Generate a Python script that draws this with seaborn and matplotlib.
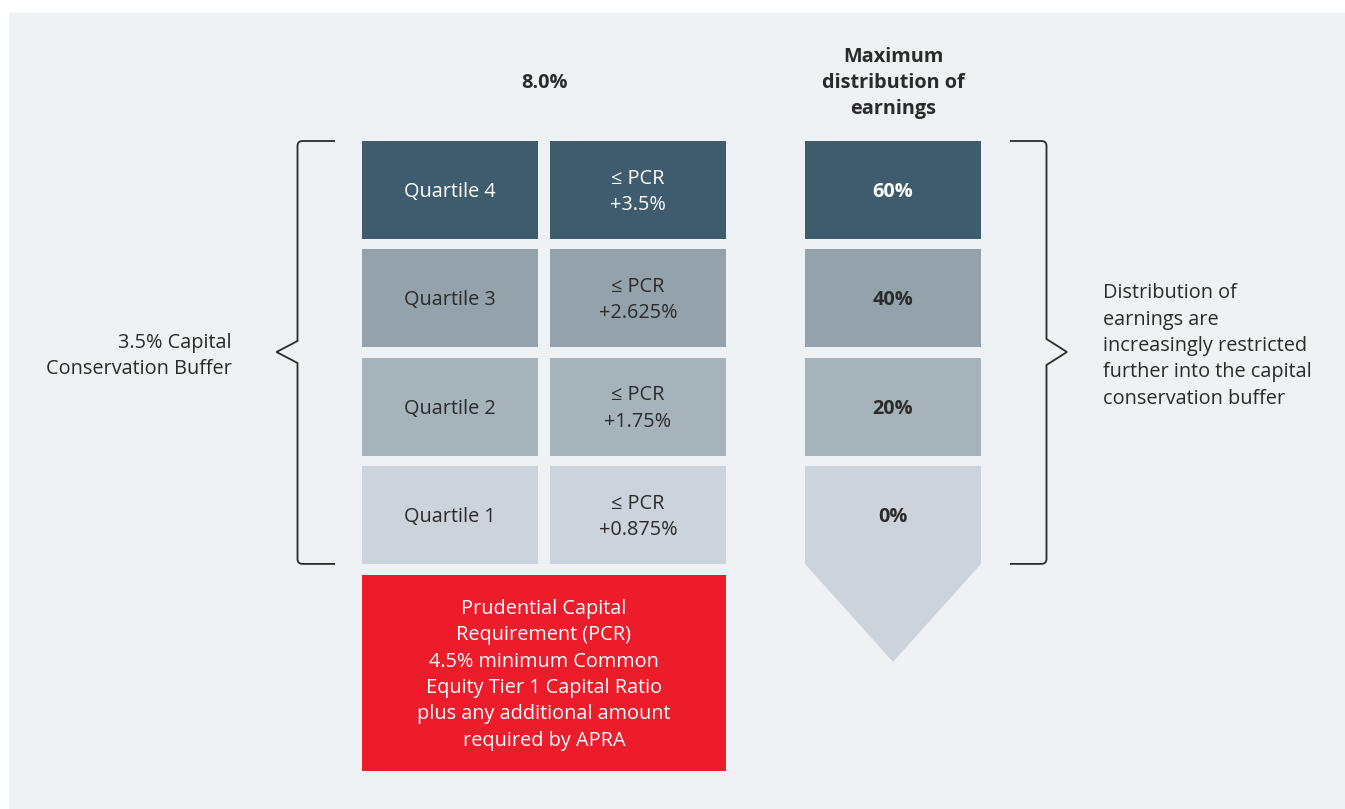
import matplotlib
matplotlib.use("Agg")
import matplotlib.pyplot as plt
import matplotlib.patches as mpatches
from matplotlib.path import Path
import seaborn as sns

# Data for the capital conservation buffer diagram (top row first)
quartiles = ["Quartile 4", "Quartile 3", "Quartile 2", "Quartile 1"]
thresholds = ["+3.5%", "+2.625%", "+1.75%", "+0.875%"]
max_distribution = ["60%", "40%", "20%", "0%"]
row_colors = ["#3e5c6e", "#94a3ab", "#a6b3bb", "#cdd3da"]
row_text_colors = ["white", "#2b2b2b", "#2b2b2b", "#2b2b2b"]
header_ratio = "8.0%"
header_dist = "Maximum\ndistribution of\nearnings"
left_label = "3.5% Capital\nConservation Buffer"
right_label = ("Distribution of\nearnings are\nincreasingly restricted\n"
               "further into the capital\nconservation buffer")
pcr_label = ("Prudential Capital\nRequirement (PCR)\n4.5% minimum Common\n"
             "Equity Tier 1 Capital Ratio\nplus any additional amount\nrequired by APRA")

sns.set_theme(style="white")
plt.rcParams["font.family"] = ["Open Sans", "DejaVu Sans"]

BG = "#eef2f5"
DARK = "#2b2b2b"
RED = "#ed1c2a"
FS = 14.3
LS = 1.42
DY = 2  # small nudge so text sits optically centred

fig = plt.figure(figsize=(13.45, 8.09), dpi=100)
fig.patch.set_facecolor("white")
ax = fig.add_axes([0, 0, 1, 1])
ax.set_xlim(0, 1345)
ax.set_ylim(809, 0)
ax.axis("off")

# panel background
ax.add_patch(mpatches.Rectangle((9, 13), 1345 - 9, 809 - 13, color=BG, zorder=0))

# layout
top, box_h, pitch = 141, 98, 108.3
col_x = [362, 550, 805]
col_w = 176

for i, (q, t, d) in enumerate(zip(quartiles, thresholds, max_distribution)):
    y0 = top + i * pitch
    cy = y0 + box_h / 2 + DY
    c = row_colors[i]
    tc = row_text_colors[i]
    ax.add_patch(mpatches.Rectangle((col_x[0], y0), col_w, box_h, color=c, lw=0))
    ax.add_patch(mpatches.Rectangle((col_x[1], y0), col_w, box_h, color=c, lw=0))
    if i == len(quartiles) - 1:
        # last row becomes a downward arrow
        tip = y0 + box_h + 98
        ax.add_patch(mpatches.Polygon(
            [(col_x[2], y0), (col_x[2] + col_w, y0), (col_x[2] + col_w, y0 + box_h),
             (col_x[2] + col_w / 2, tip), (col_x[2], y0 + box_h)],
            closed=True, color=c, lw=0))
    else:
        ax.add_patch(mpatches.Rectangle((col_x[2], y0), col_w, box_h, color=c, lw=0))
    ax.text(col_x[0] + col_w / 2, cy, q, ha="center", va="center", color=tc, fontsize=FS)
    ax.text(col_x[1] + col_w / 2, cy, "\u2264 PCR\n" + t, ha="center", va="center",
            color=tc, fontsize=FS, linespacing=LS)
    ax.text(col_x[2] + col_w / 2, cy, d, ha="center", va="center", color=tc,
            fontsize=FS, fontweight="bold")

# PCR red box
red_top = top + 3 * pitch + box_h + 11
ax.add_patch(mpatches.Rectangle((col_x[0], red_top), col_x[1] + col_w - col_x[0], 196,
                                color=RED, lw=0))
ax.text((col_x[0] + col_x[1] + col_w) / 2, red_top + 98 + DY, pcr_label, ha="center",
        va="center", color="white", fontsize=FS, linespacing=LS)

# headers
ax.text((col_x[0] + col_x[1] + col_w) / 2, 81 + DY, header_ratio, ha="center",
        va="center", color=DARK, fontsize=FS, fontweight="bold")
ax.text(col_x[2] + col_w / 2, 81 + DY, header_dist, ha="center", va="center",
        color=DARK, fontsize=FS, fontweight="bold", linespacing=LS)


def bracket(xv, xs, xp, y_top, y_bot, ym, half):
    r = 5 if xs > xv else -5
    verts = [(xs, y_top), (xv + r, y_top), (xv, y_top), (xv, y_top + 5),
             (xv, ym - half), (xp, ym), (xv, ym + half),
             (xv, y_bot - 5), (xv, y_bot), (xv + r, y_bot), (xs, y_bot)]
    codes = [Path.MOVETO, Path.LINETO, Path.CURVE3, Path.CURVE3,
             Path.LINETO, Path.LINETO, Path.LINETO,
             Path.LINETO, Path.CURVE3, Path.CURVE3, Path.LINETO]
    ax.add_patch(mpatches.PathPatch(Path(verts, codes), fill=False, edgecolor=DARK,
                                    lw=1.3, capstyle="butt", joinstyle="miter"))


y_bot = top + 3 * pitch + box_h
bracket(297.5, 335, 276.5, top, y_bot, 352, 11)
bracket(1046.5, 1010, 1067, top, y_bot, 352, 13)

ax.text(232, 354 + DY, left_label, ha="right", va="center", color=DARK, fontsize=FS,
        linespacing=LS)
ax.text(1103, 344 + DY, right_label, ha="left", va="center", color=DARK, fontsize=FS,
        linespacing=LS)

fig.savefig("out.png", dpi=100, facecolor=fig.get_facecolor())
